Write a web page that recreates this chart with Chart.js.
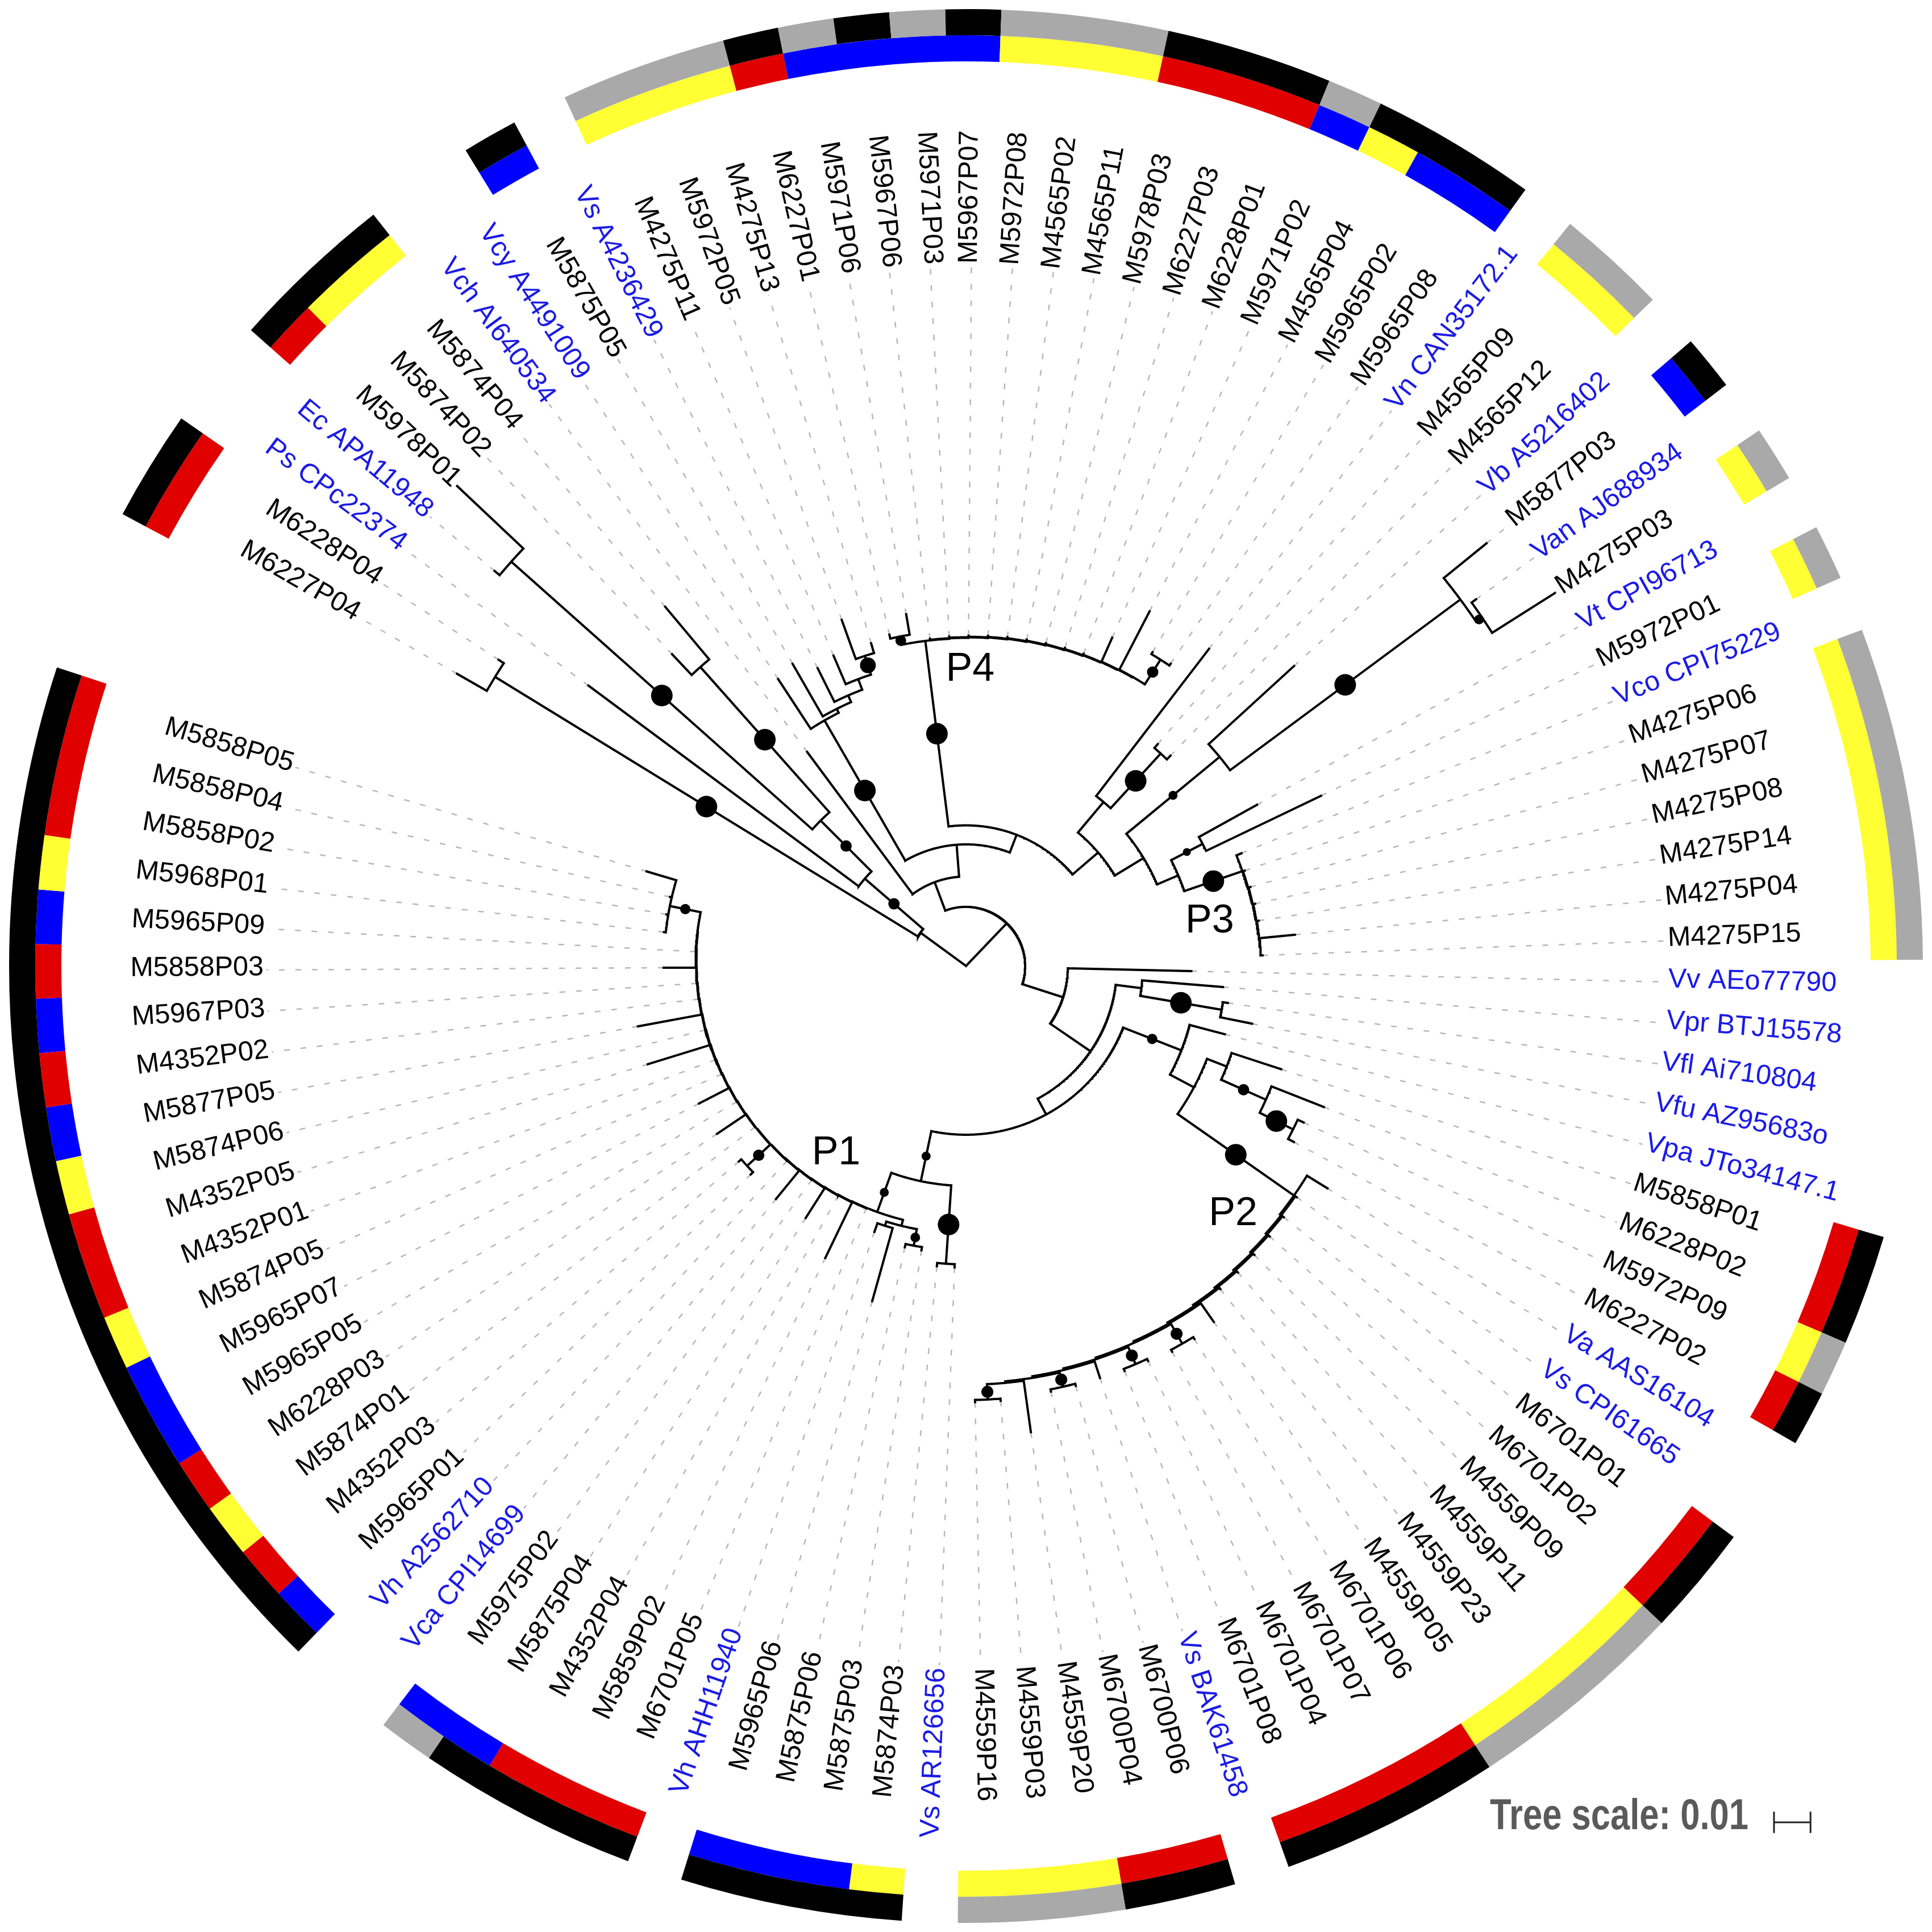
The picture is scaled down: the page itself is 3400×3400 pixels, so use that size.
<!DOCTYPE html>
<html lang="en">
<head>
<meta charset="UTF-8">
<title>Circular tree</title>
<script src="https://cdn.jsdelivr.net/npm/chart.js@4.4.0/dist/chart.umd.min.js"></script>
<style>
  html, body { margin: 0; padding: 0; background: #fff; }
  #wrap { position: relative; width: 3400px; height: 3400px; overflow: hidden; }
  #wrap canvas { position: absolute; left: 0; top: 0; }
</style>
</head>
<body>
<div id="wrap">
  <canvas id="ringChart" width="3400" height="3400"></canvas>
  <canvas id="treeChart" width="3400" height="3400"></canvas>
</div>
<script>
// ---- data ----
// leaves in drawing order (counter-clockwise, starting at the left)
const leafNames = [
  'M5858P05','M5858P04','M5858P02','M5968P01','M5965P09','M5858P03','M5967P03','M4352P02','M5877P05','M5874P06',
  'M4352P05','M4352P01','M5874P05','M5965P07','M5965P05','M6228P03','M5874P01','M4352P03','M5965P01','Vh A2562710',
  'Vca CPI14699','M5975P02','M5875P04','M4352P04','M5859P02','M6701P05','Vh AHH11940','M5965P06','M5875P06','M5875P03',
  'M5874P03','Vs AR126656','M4559P16','M4559P03','M4559P20','M6700P04','M6700P06','Vs BAK61458','M6701P08','M6701P04',
  'M6701P07','M6701P06','M4559P05','M4559P23','M4559P11','M4559P09','M6701P02','M6701P01','Vs CPI61665','Va AAS16104',
  'M6227P02','M5972P09','M6228P02','M5858P01','Vpa JTo34147.1','Vfu AZ95683o','Vfl Ai710804','Vpr BTJ15578','Vv AEo77790','M4275P15',
  'M4275P04','M4275P14','M4275P08','M4275P07','M4275P06','Vco CPI75229','M5972P01','Vt CPI96713','M4275P03','Van AJ688934',
  'M5877P03','Vb A5216402','M4565P12','M4565P09','Vn CAN35172.1','M5965P08','M5965P02','M4565P04','M5971P02','M6228P01',
  'M6227P03','M5978P03','M4565P11','M4565P02','M5972P08','M5967P07','M5971P03','M5967P06','M5971P06','M6227P01',
  'M4275P13','M5972P05','M4275P11','Vs A4236429','M5875P05','Vcy A4491009','Vch AI640534','M5874P04','M5874P02','M5978P01',
  'Ec APA11948','Ps CPc22374','M6228P04','M6227P04'
];

// reference sequences (blue labels)
const referenceLeaves = [19, 20, 26, 31, 37, 48, 49, 54, 55, 56, 57, 58, 65, 67, 69, 71, 74, 93, 95, 96, 100, 101];

// outer ring: K black, G grey, '' none
const ringOuter = [
  'K','K','K','K','K','K','K','K','K','K',
  'K','K','K','K','K','K','K','K','K','',
  '','G','K','K','K','K','','K','K','K',
  'K','','G','G','G','K','K','','K','K',
  'K','K','G','G','G','G','K','K','','',
  'K','G','K','K','','','','','','G',
  'G','G','G','G','G','','G','','G','',
  'K','','G','G','','K','K','K','G','K',
  'K','K','G','G','G','K','G','K','G','K',
  'G','G','G','','K','','','K','K','K',
  '','','K','K'
];

// inner ring: R red, Y yellow, B blue, '' none
const ringInner = [
  'R','R','R','Y','B','R','B','R','B','Y',
  'R','R','Y','B','B','R','Y','R','B','',
  '','B','B','R','R','R','','B','B','B',
  'Y','','Y','Y','Y','R','R','','R','R',
  'R','R','Y','Y','Y','Y','R','R','','',
  'R','Y','R','R','','','','','','Y',
  'Y','Y','Y','Y','Y','','Y','','Y','',
  'B','','Y','Y','','B','B','Y','B','R',
  'R','R','Y','Y','Y','B','B','B','B','R',
  'Y','Y','Y','','B','','','Y','Y','R',
  '','','R','R'
];

// tree (leaf = index into leafNames, internal label = bootstrap, lengths in 0.001 subst./site)
const outgroupClade = '((102:1.7,103:9.4)100:135.8,(101:92.2,((97:18.8,98:7.8)100:53.2,(99:24.9,100:1.8)100:110.3)70:19.7)70:21.1):15.5';
const cladeC = '(95:16.3,(94:16.6,(93:10.3,(92:8.5,(90:2.8,91:11.4)83:5.4):3.1):2.0):1.2)100:44.3';
const cladeP4 = '((88:5.7,89:1.1)68:2.3,(87:0.3,(86:0.3,(85:0.3,(84:0.3,(83:0.3,(82:0.3,(81:0.3,(80:0.3,(79:0.3,(78:7.2,(77:18.0,(75:0.6,76:0.6)70:8.0)'
  + ':0.15):0.15):0.15):0.15):0.15):0.15):0.15):0.15):0.15):0.15):0.15)100:51.2';
const cladeS = '((74:50.8,(72:1.4,73:1.4)100:20.3):10.9,((71:31.7,(70:15.1,(68:20.3,69:1.5)65:2.0)100:78.5)63:33.1,'
  + '((66:34.9,67:18.2)60:9.7,(65:1.5,(64:0.5,(63:0.5,(62:0.5,(61:0.5,(59:0.5,60:9.7):0.15):0.15):0.15):0.15):0.15)100:16.8):6.3):9.2):9.2';
const cladeP2 = '(49:6.6,(48:0.5,(47:0.5,(46:0.5,(45:0.5,(44:0.5,(43:0.5,(42:6.2,((40:0.6,41:0.6)72:6.2,((38:0.6,39:0.6)72:5.1,'
  + '(37:4.8,((35:0.6,36:0.6)72:4.0,(34:14.2,(32:0.6,33:0.6)72:4.2)'
  + ':0.42):0.42):0.42):0.42):0.42):0.42):0.42):0.42):0.42):0.42):0.42):0.42)100:38.9';
const cladeP1 = '(((26:2.5,27:20.8):1.2,(28:0.9,29:0.9)65:4.6):1.7,(25:0,(24:16.9,(23:0,(22:9.7,(21:0,(20:10.0,(19:0,'
  + '((17:0.9,18:0.9)70:8.6,(16:0,(15:9.4,(14:0,(13:9.2,(12:0,(11:0,(10:17.8,(9:0,(8:17.7,(7:0,(6:0,(5:8.8,(4:0,'
  + '(0:8.5,1:0.5,2:0.5,3:0.5)67:8.6'
  + '):0.12):0.12):0.12):0.12):0.12):0.12):0.12):0.12):0.12):0.12):0.12):0.12):0.12):0.12):0.12):0.12):0.12):0.12):0.12):0.12):0.12'
  + ')63:11.4';
const upperClade = `(96:48.5,(${cladeC},(${cladeP4},${cladeS}):5.2):8.8):8.3`;
const lowerClade = `(58:33.8,((57:22.2,(55:8.9,56:1.4)100:22.6):7.1,((54:10.0,((53:14.3,(52:15.4,(50:1.8,51:1.8)100:10.2)70:13.4):5.8,${cladeP2}):7.4)67:17.1,`
  + `((30:0.9,31:0.9)100:21.5,${cladeP1})63:14.0):4.9):13.4):11.7`;
const treeNewick = `(${outgroupClade},(${upperClade},${lowerClade}):16.2);`;

const cladeNames = ['P1', 'P2', 'P3', 'P4'];
const treeScale = 0.01;

// ---- layout ----
const lengthUnit = 0.001;
const pxPerUnit = 6500;          // 0.01 -> 65px
const half = 1700 / pxPerUnit;
const theta0 = 163.5;            // first leaf, degrees
const leafStep = 350 / 104;
const ringOuterR = 1684, ringInnerR = 1592;
const labelR = 1250 / pxPerUnit, leaderR = 1245 / pxPerUnit;
const cladeLabelPolar = [[406, 235.3], [649, 317.1], [441, 10.4], [527, 89.2]];
const ringColors = { K: '#000000', G: '#a9a9a9', R: '#e00000', Y: '#ffff33', B: '#0000ff', '': 'rgba(0,0,0,0)' };
const blueText = '#1a1ae6';

function parseNewick(s) {
  let i = 0;
  function node() {
    const n = { children: [] };
    if (s[i] === '(') {
      i++;
      n.children.push(node());
      while (s[i] === ',') { i++; n.children.push(node()); }
      i++;
    }
    let lab = '';
    while (i < s.length && !':,);'.includes(s[i])) lab += s[i++];
    n.len = 0;
    if (s[i] === ':') {
      i++;
      let num = '';
      while (i < s.length && !',);'.includes(s[i])) num += s[i++];
      n.len = parseFloat(num);
    }
    if (n.children.length) n.support = lab ? +lab : null;
    else n.leaf = +lab;
    return n;
  }
  return node();
}

function layout(n, depth) {
  n.depth = depth;
  if (!n.children.length) { n.angle = theta0 + leafStep * n.leaf; return; }
  n.children.forEach(c => layout(c, depth + c.len * lengthUnit));
  const a = n.children.map(c => c.angle);
  n.minA = Math.min(...a);
  n.maxA = Math.max(...a);
  n.angle = (n.minA + n.maxA) / 2;
}

function polar(r, deg) {
  const a = deg * Math.PI / 180;
  return { x: r * Math.cos(a), y: r * Math.sin(a) };
}

const tree = parseNewick(treeNewick);
layout(tree, 0);

const GAP = { x: null, y: null };
const branchPts = [], leaderPts = [], dotPts = [], dotRadii = [];
let leafCount = 0;
function walk(n, parent) {
  if (parent && n.depth > parent.depth) {
    branchPts.push(polar(parent.depth, n.angle), polar(n.depth, n.angle), GAP);
  }
  if (n.children.length) {
    if (n.depth > 0) {
      const steps = Math.max(2, Math.ceil((n.maxA - n.minA) / 0.25));
      for (let k = 0; k <= steps; k++) branchPts.push(polar(n.depth, n.minA + (n.maxA - n.minA) * k / steps));
      branchPts.push(GAP);
    }
    if (parent && n.support != null) {
      dotPts.push(polar((parent.depth + n.depth) / 2, n.angle));
      dotRadii.push(4 + 15 * (n.support - 50) / 50);
    }
    n.children.forEach(c => walk(c, n));
  } else {
    leafCount++;
    if (n.depth < leaderR) leaderPts.push(polar(n.depth, n.angle), polar(leaderR, n.angle), GAP);
  }
}
walk(tree, null);
if (leafCount !== leafNames.length) console.error('leaf count mismatch', leafCount);

// scale bar (in tree units)
const barX = 1438 / pxPerUnit, barY = -1524 / pxPerUnit, barTick = 19 / pxPerUnit;
const scalePts = [
  { x: barX, y: barY }, { x: barX + treeScale, y: barY }, GAP,
  { x: barX, y: barY - barTick }, { x: barX, y: barY + barTick }, GAP,
  { x: barX + treeScale, y: barY - barTick }, { x: barX + treeScale, y: barY + barTick }
];

// ---- rings (doughnut) ----
function ringRuns(codes) {
  const runs = [];
  for (let i = codes.length - 1; i >= 0; i--) {
    const c = codes[i];
    if (runs.length && runs[runs.length - 1].code === c) runs[runs.length - 1].n++;
    else runs.push({ code: c, n: 1 });
  }
  return runs;
}
const outerRuns = ringRuns(ringOuter);
const innerRuns = ringRuns(ringInner);
const lastLeafEdge = theta0 + leafStep * (leafNames.length - 1) + leafStep / 2;

new Chart(document.getElementById('ringChart'), {
  type: 'doughnut',
  data: {
    labels: (outerRuns.length > innerRuns.length ? outerRuns : innerRuns).map((r, k) => 'run ' + k),
    datasets: [
      { data: outerRuns.map(r => r.n), backgroundColor: outerRuns.map(r => ringColors[r.code]), borderWidth: 0 },
      { data: innerRuns.map(r => r.n), backgroundColor: innerRuns.map(r => ringColors[r.code]), borderWidth: 0 }
    ]
  },
  options: {
    responsive: false,
    devicePixelRatio: 1,
    animation: false,
    events: [],
    rotation: 90 - lastLeafEdge,
    circumference: leafStep * leafNames.length,
    radius: ringOuterR,
    cutout: (ringInnerR / ringOuterR * 100) + '%',
    layout: { padding: 0 },
    plugins: { legend: { display: false }, tooltip: { enabled: false } }
  }
});

// ---- tree (scatter) ----
const refSet = new Set(referenceLeaves);
const textPlugin = {
  id: 'treeText',
  afterDraw(chart) {
    const { ctx, scales: { x, y } } = chart;
    ctx.save();
    ctx.font = '48.5px "Liberation Sans", Arial, sans-serif';
    ctx.textBaseline = 'middle';
    leafNames.forEach((name, i) => {
      const deg = theta0 + leafStep * i;
      const p = polar(labelR, deg);
      const a = ((deg % 360) + 360) % 360;
      const right = a < 90 || a > 270;
      ctx.save();
      ctx.translate(x.getPixelForValue(p.x), y.getPixelForValue(p.y));
      ctx.rotate(-deg * Math.PI / 180 + (right ? 0 : Math.PI));
      ctx.textAlign = right ? 'left' : 'right';
      ctx.fillStyle = refSet.has(i) ? blueText : '#000';
      ctx.fillText(name, 0, -4);
      ctx.restore();
    });

    ctx.font = '70px "Liberation Sans", Arial, sans-serif';
    ctx.textAlign = 'center';
    ctx.fillStyle = '#000';
    cladeNames.forEach((t, k) => {
      const p = polar(cladeLabelPolar[k][0] / pxPerUnit, cladeLabelPolar[k][1]);
      ctx.fillText(t, x.getPixelForValue(p.x), y.getPixelForValue(p.y));
    });

    // tree scale caption: narrow bold face, squeezed to the reference width
    const caption = 'Tree scale: ' + treeScale;
    ctx.font = 'bold 76px "Liberation Sans Narrow", "Liberation Sans", Arial, sans-serif';
    const w = ctx.measureText(caption).width;
    ctx.translate(x.getPixelForValue(barX) - 45, y.getPixelForValue(barY) + 12);
    ctx.scale(455 / w, 1);
    ctx.textAlign = 'right';
    ctx.textBaseline = 'alphabetic';
    ctx.fillStyle = '#5a5a5a';
    ctx.fillText(caption, 0, 0);
    ctx.restore();
  }
};

new Chart(document.getElementById('treeChart'), {
  type: 'scatter',
  data: {
    datasets: [
      { data: dotPts, pointRadius: dotRadii, pointBackgroundColor: '#000', pointBorderWidth: 0, showLine: false, order: 0 },
      { data: branchPts, showLine: true, borderColor: '#000', borderWidth: 4, borderCapStyle: 'square', pointRadius: 0, order: 1 },
      { data: scalePts, showLine: true, borderColor: '#222', borderWidth: 3, pointRadius: 0, order: 1 },
      { data: leaderPts, showLine: true, borderColor: '#b8b8b8', borderWidth: 2.5, borderDash: [10, 19], pointRadius: 0, order: 2 }
    ]
  },
  options: {
    responsive: false,
    devicePixelRatio: 1,
    animation: false,
    events: [],
    layout: { padding: 0 },
    scales: {
      x: { type: 'linear', min: -half, max: half, display: false },
      y: { type: 'linear', min: -half, max: half, display: false }
    },
    plugins: { legend: { display: false }, tooltip: { enabled: false } }
  },
  plugins: [textPlugin]
});
</script>
</body>
</html>
